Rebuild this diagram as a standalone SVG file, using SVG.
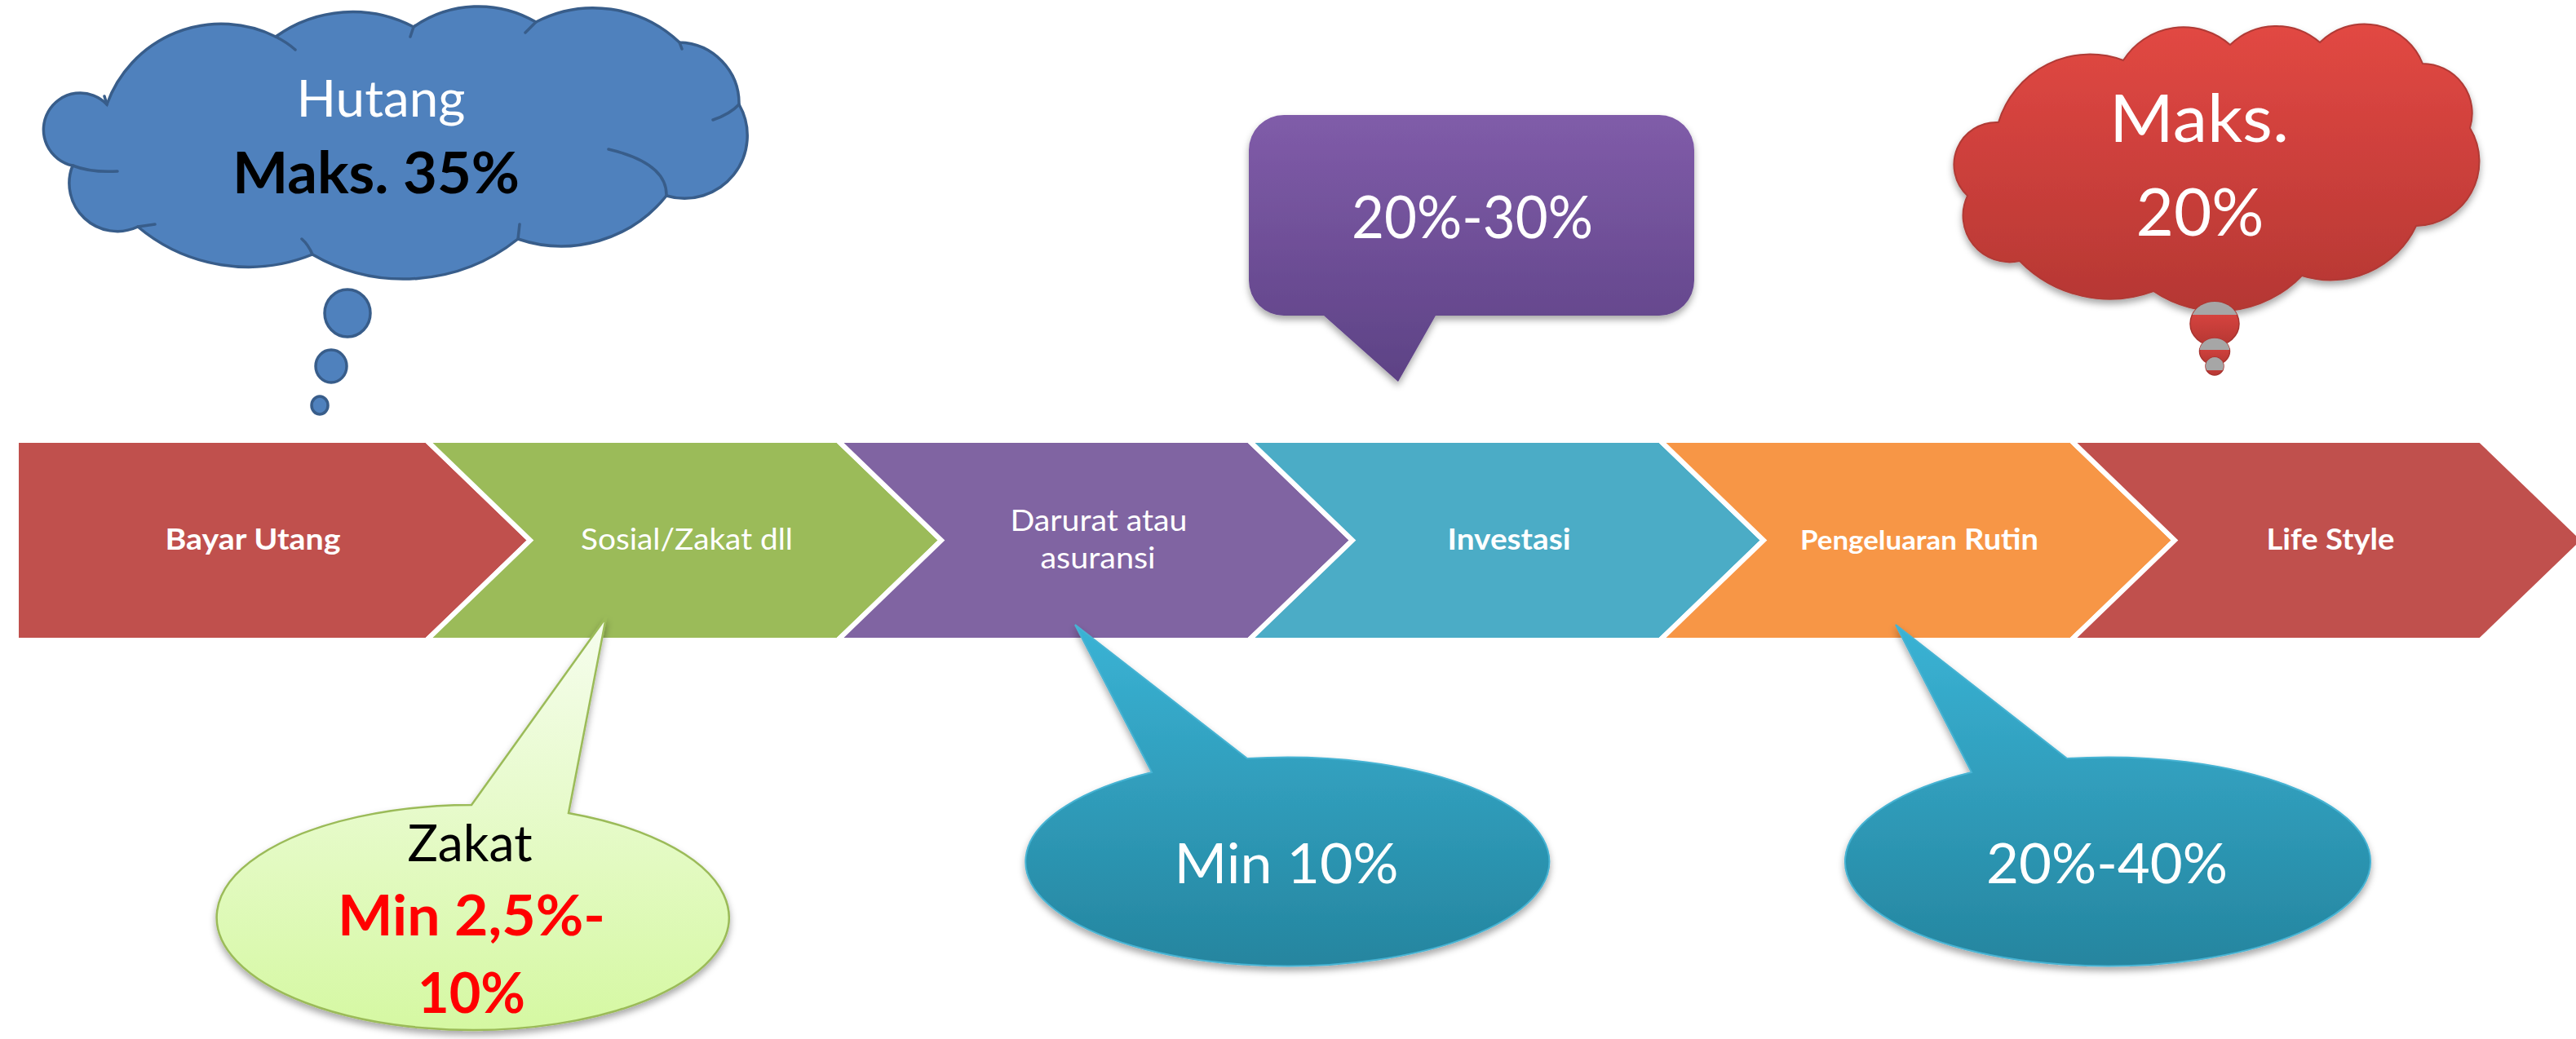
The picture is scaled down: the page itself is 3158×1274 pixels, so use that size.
<svg xmlns="http://www.w3.org/2000/svg" width="3158" height="1274" viewBox="0 0 3158 1274">
<style>
  .chev { stroke: #FFFFFF; stroke-width: 6; stroke-linejoin: miter; }
  .lbl { font-family: Lato, "Open Sans", sans-serif; fill: #FFFFFF; text-anchor: middle; }
  .b { font-weight: bold; }
  .inner { fill: none; stroke: #385D8A; stroke-width: 3.5; stroke-linecap: round; }
</style>
<defs>
  <linearGradient id="gPurple" x1="0" y1="0" x2="0" y2="1">
    <stop offset="0" stop-color="#805CA9"/>
    <stop offset="1" stop-color="#5D4285"/>
  </linearGradient>
  <linearGradient id="gTeal" x1="0" y1="0" x2="0" y2="1">
    <stop offset="0" stop-color="#3AB3D5"/>
    <stop offset="1" stop-color="#25859F"/>
  </linearGradient>
  <linearGradient id="gGreen" x1="0" y1="0" x2="0" y2="1">
    <stop offset="0" stop-color="#F6FDEE"/>
    <stop offset="1" stop-color="#D5F8A2"/>
  </linearGradient>
  <linearGradient id="gRed" x1="0" y1="0" x2="0" y2="1">
    <stop offset="0" stop-color="#E24843"/>
    <stop offset="1" stop-color="#B53733"/>
  </linearGradient>
  <filter id="shadow" x="-10%" y="-10%" width="120%" height="130%">
    <feDropShadow dx="0" dy="5" stdDeviation="4" flood-color="#000000" flood-opacity="0.35"/>
  </filter>
</defs>

<!-- Chevron process band -->
<g id="node-bayar-utang">
  <polygon class="chev" fill="#C0504D" points="20,540 523,540 650,662.5 523,785 20,785"/>
  <text class="lbl b" x="310" y="674" font-size="36" textLength="215" lengthAdjust="spacingAndGlyphs">Bayar Utang</text>
</g>
<g id="node-sosial">
  <polygon class="chev" fill="#9BBB59" points="523,540 1027,540 1154,662.5 1027,785 523,785 650,662.5"/>
  <text class="lbl" x="842" y="674" font-size="36" textLength="260" lengthAdjust="spacingAndGlyphs">Sosial/Zakat dll</text>
</g>
<g id="node-darurat">
  <polygon class="chev" fill="#8064A2" points="1027,540 1531,540 1658,662.5 1531,785 1027,785 1154,662.5"/>
  <text class="lbl" font-size="36"><tspan x="1347" y="651" textLength="217" lengthAdjust="spacingAndGlyphs">Darurat atau</tspan><tspan x="1346" y="697" textLength="141" lengthAdjust="spacingAndGlyphs">asuransi</tspan></text>
</g>
<g id="node-investasi">
  <polygon class="chev" fill="#4BACC6" points="1531,540 2035,540 2162,662.5 2035,785 1531,785 1658,662.5"/>
  <text class="lbl b" x="1850" y="674" font-size="36" textLength="151" lengthAdjust="spacingAndGlyphs">Investasi</text>
</g>
<g id="node-pengeluaran">
  <polygon class="chev" fill="#F79646" points="2035,540 2539,540 2666,662.5 2539,785 2035,785 2162,662.5"/>
  <text class="lbl b" style="text-anchor:start" y="674"><tspan x="2207" font-size="32" textLength="192" lengthAdjust="spacingAndGlyphs">Pengeluaran</tspan><tspan x="2408" font-size="36" textLength="91" lengthAdjust="spacingAndGlyphs">Rutin</tspan></text>
</g>
<g id="node-lifestyle">
  <polygon class="chev" fill="#C0504D" points="2539,540 3041,540 3168,662.5 3041,785 2539,785 2666,662.5"/>
  <text class="lbl b" x="2857" y="674" font-size="36" textLength="157" lengthAdjust="spacingAndGlyphs">Life Style</text>
</g>

<!-- Blue thought cloud -->
<g id="node-hutang">
  <path fill="#4F81BD" stroke="#385D8A" stroke-width="3.5" d="M131,128 A149,149 0 0 1 338,45 A161,161 0 0 1 507,33 A139,139 0 0 1 657,27 A153,153 0 0 1 833,52 A75,75 0 0 1 906,128 A77,77 0 0 1 817,240 A165,165 0 0 1 635,293 A224,224 0 0 1 383,312 A210,210 0 0 1 169,278 A59,59 0 0 1 89,203 A45,45 0 1 1 131,128 Z"/>
  <path class="inner" d="M89,203 Q112,212 144,210 M817,240 Q818,200 746,183 M906,128 Q895,140 874,147 M635,293 L637,275 M383,312 Q378,300 370,293 M169,278 L190,275 M338,45 Q352,52 362,61 M507,33 L503,45 M657,27 L644,40 M833,52 L836,60 M131,128 L128,118"/>
  <ellipse cx="426" cy="384" rx="28" ry="29" fill="#4F81BD" stroke="#385D8A" stroke-width="3.5"/>
  <ellipse cx="406" cy="449" rx="19" ry="20" fill="#4F81BD" stroke="#385D8A" stroke-width="3.5"/>
  <ellipse cx="392" cy="497" rx="10" ry="11" fill="#4F81BD" stroke="#385D8A" stroke-width="3.5"/>
  <text class="lbl" x="467" y="143" font-size="62" textLength="207" lengthAdjust="spacingAndGlyphs">Hutang</text>
  <text class="lbl b" x="461" y="237" font-size="70" style="fill:#000000" textLength="352" lengthAdjust="spacingAndGlyphs">Maks. 35%</text>
</g>

<!-- Purple rectangular callout -->
<g id="node-investasi-callout">
  <path fill="url(#gPurple)" filter="url(#shadow)" d="M1574,141 H2034 A43,43 0 0 1 2077,184 V344 A43,43 0 0 1 2034,387 H1760 L1714,468 L1623,387 H1574 A43,43 0 0 1 1531,344 V184 A43,43 0 0 1 1574,141 Z"/>
  <text class="lbl" x="1805" y="292" font-size="72" textLength="296" lengthAdjust="spacingAndGlyphs">20%-30%</text>
</g>

<!-- Red thought cloud -->
<g id="node-lifestyle-cloud">
  <path fill="url(#gRed)" stroke="#B03A36" stroke-width="2" filter="url(#shadow)" d="M2450,150 A117,117 0 0 1 2603,74 A87,87 0 0 1 2734,55 A81,81 0 0 1 2844,52 A77,77 0 0 1 2970,78 A61,61 0 0 1 3028,157 A79,79 0 0 1 2962,277 A116,116 0 0 1 2822,338 A142,142 0 0 1 2640,357 A154,154 0 0 1 2476,320 A57,57 0 0 1 2412,240 A52,52 0 0 1 2450,150 Z"/>
  <ellipse cx="2715" cy="397" rx="30" ry="27" fill="url(#gRed)" stroke="#A8332F" stroke-width="1.5"/>
  <path fill="#A6A6A6" d="M2687.6,386 A30,27 0 0 1 2742.4,386 Z"/>
  <ellipse cx="2715" cy="431" rx="18.5" ry="16" fill="url(#gRed)" stroke="#A8332F" stroke-width="1.5"/>
  <path fill="#A6A6A6" d="M2696.6,429 A18.5,16 0 0 1 2733.4,429 Z"/>
  <ellipse cx="2715" cy="449" rx="11" ry="11" fill="url(#gRed)" stroke="#A8332F" stroke-width="1.5"/>
  <path fill="#A6A6A6" d="M2705.2,454 A11,11 0 1 1 2724.8,454 Z"/>
  <text class="lbl" x="2696" y="174" font-size="82" textLength="220" lengthAdjust="spacingAndGlyphs">Maks.</text>
  <text class="lbl" x="2697" y="289" font-size="82" textLength="157" lengthAdjust="spacingAndGlyphs">20%</text>
</g>

<!-- Green oval callout -->
<g id="node-zakat-callout">
  <path fill="url(#gGreen)" stroke="#9BBB59" stroke-width="2.5" filter="url(#shadow)" d="M578,987 L743,757 L697,997 A314,138 0 1 1 578,987 Z"/>
  <text class="lbl" x="576" y="1056" font-size="61" style="fill:#000000" textLength="153" lengthAdjust="spacingAndGlyphs">Zakat</text>
  <text class="lbl b" x="578" y="1147" font-size="68" style="fill:#FF0000" textLength="328" lengthAdjust="spacingAndGlyphs">Min 2,5%-</text>
  <text class="lbl b" x="578" y="1242" font-size="68" style="fill:#FF0000" textLength="132" lengthAdjust="spacingAndGlyphs">10%</text>
</g>

<!-- Teal oval callouts -->
<g id="node-darurat-callout">
  <path fill="url(#gTeal)" stroke="#46B3D3" stroke-width="2" filter="url(#shadow)" d="M1412,947 L1318,766 L1529,930 A321,128 0 1 1 1412,947 Z"/>
  <text class="lbl" x="1577" y="1083" font-size="68" textLength="275" lengthAdjust="spacingAndGlyphs">Min 10%</text>
</g>
<g id="node-pengeluaran-callout">
  <path fill="url(#gTeal)" stroke="#46B3D3" stroke-width="2" filter="url(#shadow)" d="M2417,947 L2324,766 L2534,930 A322,128 0 1 1 2417,947 Z"/>
  <text class="lbl" x="2583" y="1083" font-size="68" textLength="296" lengthAdjust="spacingAndGlyphs">20%-40%</text>
</g>

<g id="connectors"/>
</svg>
